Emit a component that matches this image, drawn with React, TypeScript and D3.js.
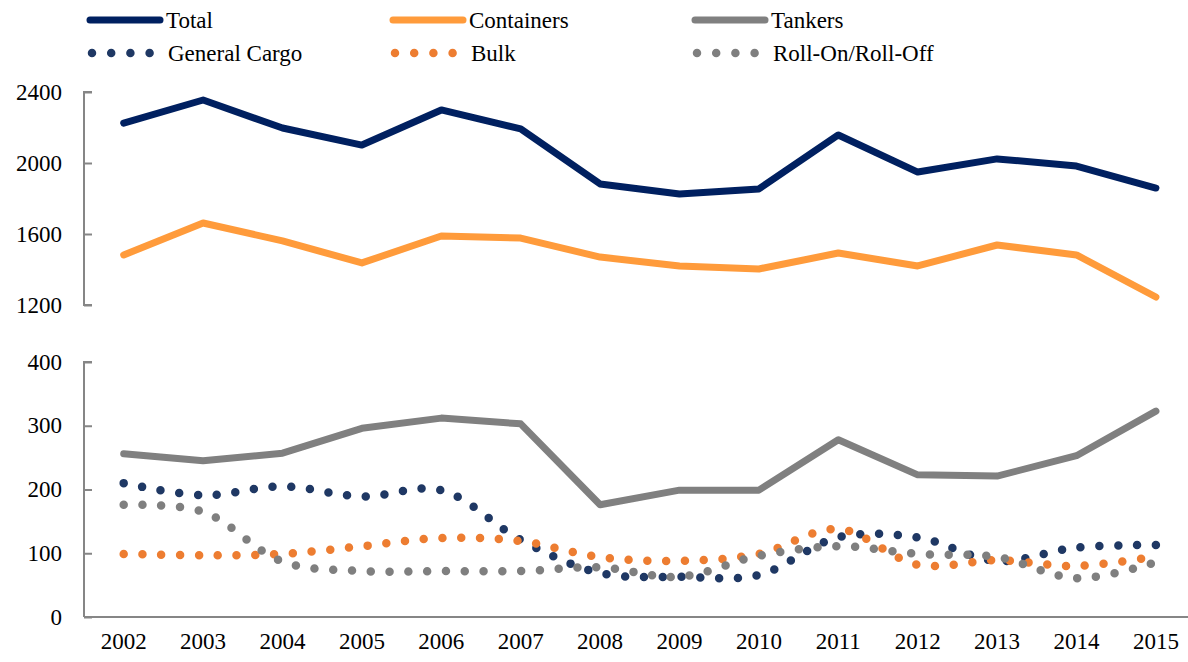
import React, { useEffect, useRef } from 'react'
import * as d3 from 'd3'

const years = ['2002','2003','2004','2005','2006','2007','2008','2009','2010','2011','2012','2013','2014','2015']

const total = [2225, 2355, 2197, 2101, 2299, 2192, 1882, 1825, 1854, 2158, 1949, 2023, 1983, 1859]
const containers = [1482, 1662, 1561, 1437, 1589, 1577, 1470, 1420, 1403, 1493, 1420, 1538, 1482, 1245]
const tankers = [256, 245, 257, 296, 312, 303, 176, 199, 199, 278, 223, 221, 253, 323]
const generalCargo = [210, 191, 205, 189, 199, 121, 69, 63, 66, 125, 125, 88, 109, 113]
const bulk = [99, 97, 99, 111, 124, 119, 94, 88, 99, 138, 82, 89, 80, 95]
const roro = [176, 165, 87, 72, 72, 72, 78, 63, 96, 111, 99, 94, 61, 86]

const topTicks = [1200, 1600, 2000, 2400]
const bottomTicks = [0, 100, 200, 300, 400]

const FONT = 'Liberation Serif, Times New Roman, DejaVu Serif, serif'

export default function App() {
  const ref = useRef<SVGSVGElement>(null)

  useEffect(() => {
    const svg = d3.select(ref.current)
    svg.selectAll('*').remove()

    const axisX = 84
    const x = d3.scaleBand().domain(years).range([axisX, axisX + 79.4 * 14])
    const cx = (d: string) => (x(d) as number) + x.bandwidth() / 2

    const yTop = d3.scaleLinear().domain([1200, 2400]).range([305, 92])
    const yBot = d3.scaleLinear().domain([0, 400]).range([617, 362])

    const axisColor = '#868686'

    // top y axis
    const gTop = svg.append('g').attr('transform', `translate(${axisX},0)`)
    gTop.call(d3.axisRight(yTop).tickValues(topTicks).tickSize(8).tickFormat(() => ''))
    gTop.selectAll('path, line').attr('stroke', axisColor).attr('stroke-width', 2)
    gTop.select('.domain').attr('d', `M8,${yTop(2400)}H0V${yTop(1200)}H8`)

    // bottom y axis
    const gBot = svg.append('g').attr('transform', `translate(${axisX},0)`)
    gBot.call(d3.axisRight(yBot).tickValues(bottomTicks).tickSize(8).tickFormat(() => ''))
    gBot.selectAll('path, line').attr('stroke', axisColor).attr('stroke-width', 2)
    gBot.select('.domain').attr('d', `M8,${yBot(400)}H0V${yBot(0)}`)

    // x axis line
    svg.append('line')
      .attr('x1', axisX).attr('x2', axisX + 79.4 * 14)
      .attr('y1', yBot(0)).attr('y2', yBot(0))
      .attr('stroke', axisColor).attr('stroke-width', 2)

    // tick labels
    const labels = svg.append('g').attr('font-family', FONT).attr('font-size', 23).attr('fill', '#000')
    topTicks.forEach(t => {
      labels.append('text').attr('x', 62).attr('y', yTop(t)).attr('text-anchor', 'end')
        .attr('dominant-baseline', 'central').text(t)
    })
    bottomTicks.forEach(t => {
      labels.append('text').attr('x', 62).attr('y', yBot(t)).attr('text-anchor', 'end')
        .attr('dominant-baseline', 'central').text(t)
    })
    years.forEach(yr => {
      labels.append('text').attr('x', cx(yr)).attr('y', 641).attr('text-anchor', 'middle')
        .attr('dominant-baseline', 'central').text(yr)
    })

    const solid = [
      { name: 'Total', values: total, color: '#002060', scale: yTop },
      { name: 'Containers', values: containers, color: '#FF9B3B', scale: yTop },
      { name: 'Tankers', values: tankers, color: '#808080', scale: yBot },
    ]
    const dotted = [
      { name: 'General Cargo', values: generalCargo, color: '#1F3864', scale: yBot },
      { name: 'Bulk', values: bulk, color: '#ED7D31', scale: yBot },
      { name: 'Roll-On/Roll-Off', values: roro, color: '#7F7F7F', scale: yBot },
    ]

    const dotDash = '0 18.8'

    dotted.forEach(s => {
      const line = d3.line<number>()
        .x((d, i) => cx(years[i]))
        .y(d => s.scale(d))
        .curve(d3.curveCatmullRom.alpha(0.5))
      svg.append('path').datum(s.values).attr('d', line)
        .attr('fill', 'none').attr('stroke', s.color).attr('stroke-width', 8.5)
        .attr('stroke-linecap', 'round').attr('stroke-dasharray', dotDash)
    })

    solid.forEach(s => {
      const line = d3.line<number>()
        .x((d, i) => cx(years[i]))
        .y(d => s.scale(d))
      svg.append('path').datum(s.values).attr('d', line)
        .attr('fill', 'none').attr('stroke', s.color).attr('stroke-width', 7)
        .attr('stroke-linejoin', 'round').attr('stroke-linecap', 'round')
    })

    // legend
    const cols = [90, 393, 695]
    const leg = svg.append('g').attr('font-family', FONT).attr('font-size', 23)
    solid.forEach((s, i) => {
      const x0 = cols[i]
      leg.append('line').attr('x1', x0).attr('x2', x0 + 70).attr('y1', 20).attr('y2', 20)
        .attr('stroke', s.color).attr('stroke-width', 7).attr('stroke-linecap', 'round')
      leg.append('text').attr('x', x0 + 76).attr('y', 20).attr('dominant-baseline', 'central').text(s.name)
    })
    dotted.forEach((s, i) => {
      const x0 = cols[i]
      leg.append('line').attr('x1', x0 + 2).attr('x2', x0 + 2 + 19.2 * 3 + 0.1).attr('y1', 53).attr('y2', 53)
        .attr('stroke', s.color).attr('stroke-width', 8.5).attr('stroke-linecap', 'round')
        .attr('stroke-dasharray', '0 19.2')
      leg.append('text').attr('x', x0 + 78).attr('y', 53).attr('dominant-baseline', 'central').text(s.name)
    })
  }, [])

  return (
    <svg ref={ref} width={1188} height={662}
      style={{ position: 'absolute', left: 0, top: 0, background: '#fff' }} />
  )
}
